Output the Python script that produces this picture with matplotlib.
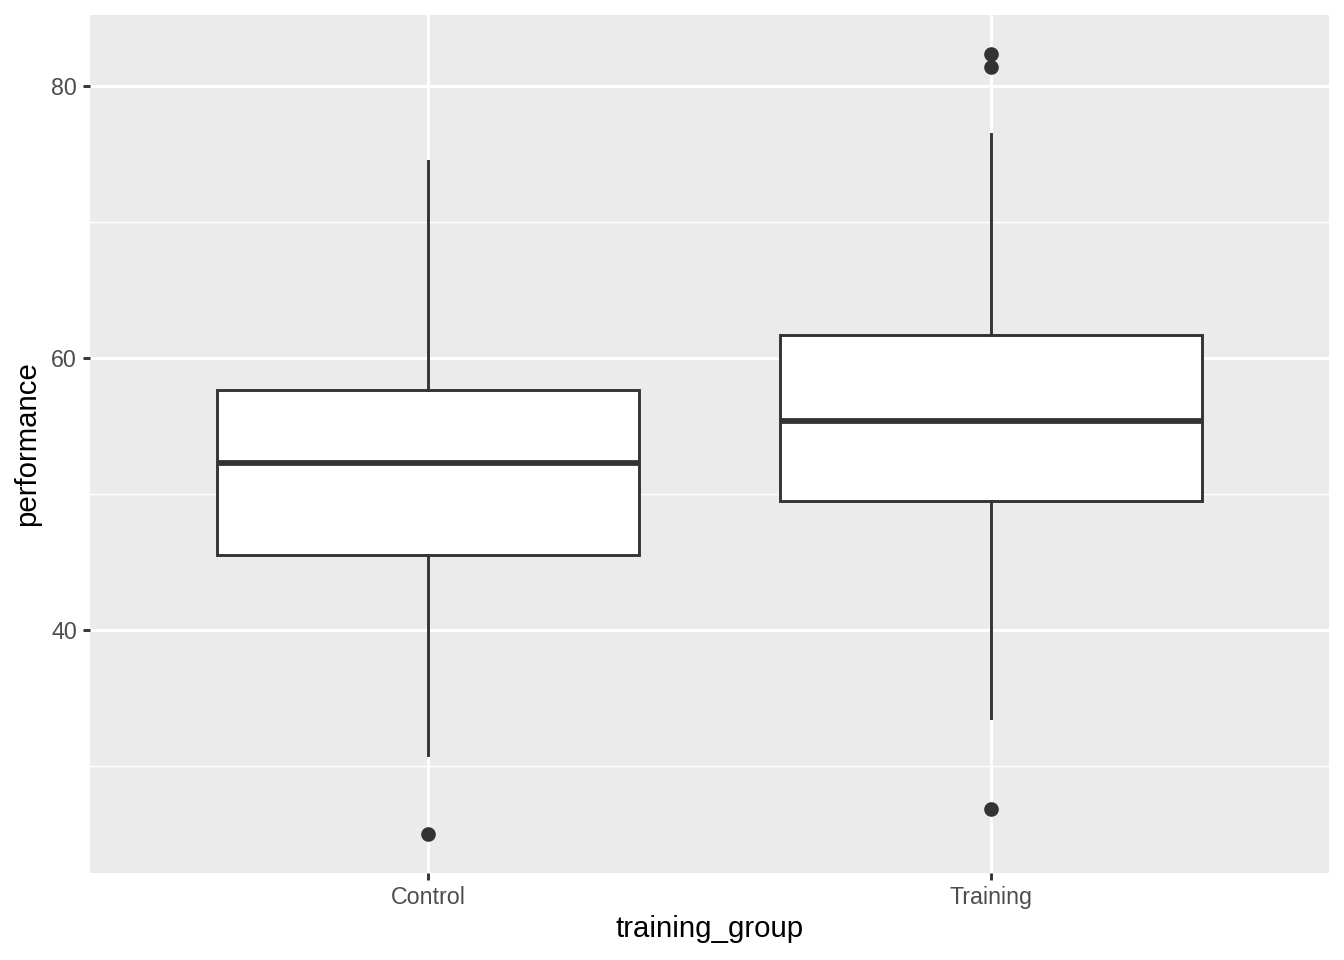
import matplotlib
matplotlib.use("Agg")
import matplotlib.pyplot as plt

plt.rcParams['font.family'] = ['Liberation Sans', 'DejaVu Sans']

# values
groups = ['Control', 'Training']
whisker_low = [30.8, 33.5]
q1 = [45.5, 49.5]
medians = [52.3, 55.4]
q3 = [57.65, 61.7]
whisker_high = [74.5, 76.5]
outliers = [[25.0], [26.8, 81.4, 82.35]]

stats = []
for i, g in enumerate(groups):
    stats.append({'label': g, 'whislo': whisker_low[i], 'q1': q1[i], 'med': medians[i],
                  'q3': q3[i], 'whishi': whisker_high[i], 'fliers': outliers[i]})

fig = plt.figure(figsize=(1344 / 144, 960 / 144), dpi=144)
ax = fig.add_axes([90 / 1344, 1 - 873 / 960, (1329 - 90) / 1344, (873 - 15) / 960])
ax.set_facecolor('#EBEBEB')

dark = '#333333'
ax.bxp(stats, positions=[1, 2], widths=0.75, showcaps=False, patch_artist=True,
       boxprops=dict(facecolor='white', edgecolor=dark, linewidth=1.45),
       whiskerprops=dict(color=dark, linewidth=1.45),
       medianprops=dict(color=dark, linewidth=2.9, solid_capstyle='butt'),
       flierprops=dict(marker='o', markerfacecolor=dark, markeredgecolor=dark, markersize=6.3),
       zorder=3)

ax.set_xlim(0.4, 2.6)
ax.set_ylim(22.13, 85.22)
ax.set_yticks([40, 60, 80])
ax.set_yticks([30, 50, 70], minor=True)
ax.set_xticks([1, 2])
ax.set_xticklabels(groups)

ax.grid(True, which='major', color='white', linewidth=1.45, zorder=0)
ax.grid(True, which='minor', axis='y', color='white', linewidth=0.72, zorder=0)
ax.set_axisbelow(True)
for s in ax.spines.values():
    s.set_visible(False)

ax.tick_params(which='major', length=3.6, width=1.45, color=dark, labelcolor='#4D4D4D',
               labelsize=11.6, pad=3)
ax.tick_params(which='minor', length=0)

ax.set_xlabel('training_group', fontsize=14.7, color='black', labelpad=3)
ax.set_ylabel('performance', fontsize=14.7, color='black', labelpad=5)

fig.savefig('out.png', dpi=144)
